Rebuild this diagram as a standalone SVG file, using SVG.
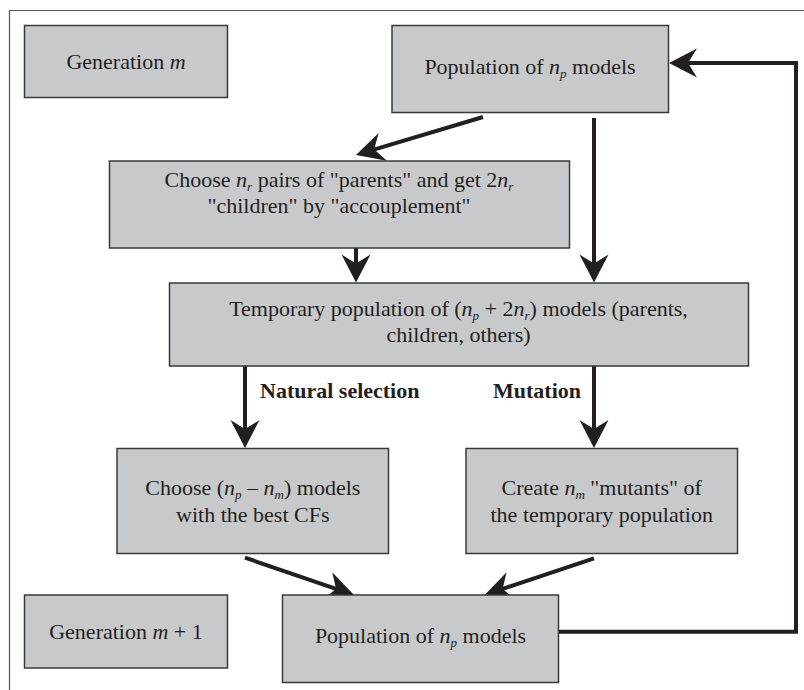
<svg xmlns="http://www.w3.org/2000/svg" width="804" height="690" viewBox="0 0 804 690">
<style>
.box{fill:#c8c9cb;stroke:#3a3a3a;stroke-width:1.5}
.t{font-family:"Liberation Serif","Times New Roman",serif;font-size:22px;fill:#231f20;text-anchor:middle}
.lbl{font-family:"Liberation Serif","Times New Roman",serif;font-size:22px;font-weight:bold;fill:#231f20}
.i{font-style:italic}
.sub{font-style:italic;font-size:13px}
.conn{fill:none;stroke:#231f20;stroke-width:4}
</style>
<defs>
<marker id="ah" markerUnits="userSpaceOnUse" viewBox="-14 -16 32 32" markerWidth="32" markerHeight="32" refX="0" refY="0" orient="auto" overflow="visible">
<path d="M16,0 L-12,-14.5 L-3,0 L-12,14.5 Z" fill="#231f20"/>
</marker>
</defs>
<rect width="804" height="690" fill="#ffffff"/>
<path d="M9.5,690 V10.5 H804" fill="none" stroke="#555" stroke-width="1.2"/>

<g id="connectors">
<path class="conn" d="M558,631.7 H796 V63 H685" marker-end="url(#ah)"/>
<path class="conn" d="M483,117 L371.3,150.4" marker-end="url(#ah)"/>
<path class="conn" d="M594,118 V266.5" marker-end="url(#ah)"/>
<path class="conn" d="M356,248 V266.5" marker-end="url(#ah)"/>
<path class="conn" d="M245,338 V432" marker-end="url(#ah)"/>
<path class="conn" d="M594,338 V432" marker-end="url(#ah)"/>
<path class="conn" d="M245,557.7 L338.9,589.8" marker-end="url(#ah)"/>
<path class="conn" d="M594,558.3 L499.8,589.9" marker-end="url(#ah)"/>
<text class="lbl" x="260" y="398">Natural selection</text>
<text class="lbl" x="493" y="398">Mutation</text>
</g>

<g id="gen-m">
<rect class="box" x="24.5" y="25.5" width="203" height="72"/>
<text class="t" x="126" y="69">Generation <tspan class="i">m</tspan></text>
</g>

<g id="pop-top">
<rect class="box" x="392" y="25.5" width="276.5" height="87"/>
<text class="t" x="530" y="74">Population of <tspan class="i">n</tspan><tspan class="sub" dy="4">p</tspan><tspan dy="-4"> models</tspan></text>
</g>

<g id="choose-pairs">
<rect class="box" x="109.5" y="161" width="460" height="87"/>
<text class="t" x="339" y="186.7">Choose <tspan class="i">n</tspan><tspan class="sub" dy="4">r</tspan><tspan dy="-4"> pairs of "parents" and get 2</tspan><tspan class="i">n</tspan><tspan class="sub" dy="4">r</tspan></text>
<text class="t" x="339" y="213.3">"children" by "accouplement"</text>
</g>

<g id="temp-pop">
<rect class="box" x="169.5" y="283" width="579" height="83"/>
<text class="t" x="458.5" y="315.7">Temporary population of (<tspan class="i">n</tspan><tspan class="sub" dy="4">p</tspan><tspan dy="-4"> + 2</tspan><tspan class="i">n</tspan><tspan class="sub" dy="4">r</tspan><tspan dy="-4">) models (parents,</tspan></text>
<text class="t" x="458.5" y="342.3">children, others)</text>
</g>

<g id="choose-best">
<rect class="box" x="117" y="448.5" width="271.5" height="105"/>
<text class="t" x="252.8" y="495">Choose (<tspan class="i">n</tspan><tspan class="sub" dy="4">p</tspan><tspan dy="-4"> – </tspan><tspan class="i">n</tspan><tspan class="sub" dy="4">m</tspan><tspan dy="-4">) models</tspan></text>
<text class="t" x="252.8" y="521.7">with the best CFs</text>
</g>

<g id="create-mutants">
<rect class="box" x="466" y="448.5" width="271.5" height="105"/>
<text class="t" x="601.7" y="495">Create <tspan class="i">n</tspan><tspan class="sub" dy="4">m</tspan><tspan dy="-4"> "mutants" of</tspan></text>
<text class="t" x="601.7" y="521.7">the temporary population</text>
</g>

<g id="gen-m1">
<rect class="box" x="24.5" y="595" width="203" height="73"/>
<text class="t" x="126" y="639">Generation <tspan class="i">m</tspan> + 1</text>
</g>

<g id="pop-bottom">
<rect class="box" x="282.5" y="595" width="276" height="87.5"/>
<text class="t" x="420.5" y="643">Population of <tspan class="i">n</tspan><tspan class="sub" dy="4">p</tspan><tspan dy="-4"> models</tspan></text>
</g>
</svg>
